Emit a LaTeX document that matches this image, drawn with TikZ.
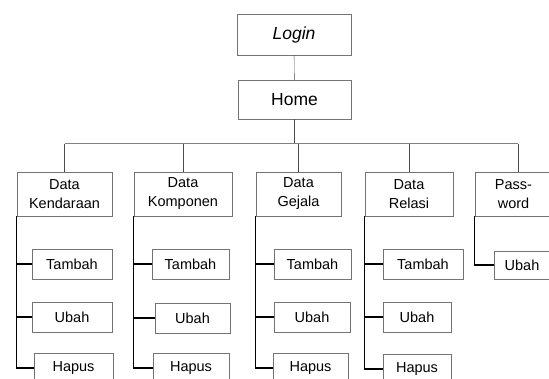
\documentclass[tikz,border=0pt]{standalone}
\usepackage{fontspec}
\setmainfont{Liberation Sans}
\usetikzlibrary{positioning}

\begin{document}
\begin{tikzpicture}[x=1pt,y=-1pt]
		\useasboundingbox (0,0) rectangle (549,379);
		\clip (0,0) rectangle (549,379);

		\begin{scope}[every node/.style={rectangle,draw=gray!90!black,thin,inner sep=0pt,align=center,font=\fontsize{14.5}{19}\selectfont}]
			\node[minimum width=114pt,minimum height=41pt,font=\fontsize{17.5}{20}\selectfont\itshape] (login) at (294,34.5) {Login};
			\node[minimum width=113pt,minimum height=39pt,font=\fontsize{17.5}{20}\selectfont] (home) at (294.5,99.5) {Home};

			\node[minimum width=95pt,minimum height=44pt] (kend) at (64.5,194) {Data\\Kendaraan};
			\node[minimum width=98pt,minimum height=44pt] (komp) at (183,194) {Data\\Komponen};
			\node[minimum width=85pt,minimum height=44pt] (gej) at (298.5,194) {Data\\Gejala};
			\node[minimum width=88pt,minimum height=44pt] (rel) at (409,194) {Data\\Relasi};
			\node[minimum width=77pt,minimum height=44pt] (pass) at (513.5,194) {Pass-\\word};

			\node[minimum width=80pt,minimum height=30pt] (kendT) at (72,264) {Tambah};
			\node[minimum width=80pt,minimum height=30pt] (kendU) at (72,317) {Ubah};
			\node[minimum width=79pt,minimum height=30pt] (kendH) at (73.5,368) {Hapus};

			\node[minimum width=77pt,minimum height=30pt] (kompT) at (190.5,264) {Tambah};
			\node[minimum width=75pt,minimum height=30pt] (kompU) at (192.5,318) {Ubah};
			\node[minimum width=76pt,minimum height=30pt] (kompH) at (191,368) {Hapus};

			\node[minimum width=77pt,minimum height=30pt] (gejT) at (312.5,264) {Tambah};
			\node[minimum width=76pt,minimum height=30pt] (gejU) at (312,317) {Ubah};
			\node[minimum width=75pt,minimum height=30pt] (gejH) at (310.5,368) {Hapus};

			\node[minimum width=80pt,minimum height=30pt] (relT) at (423,264) {Tambah};
			\node[minimum width=68pt,minimum height=30pt] (relU) at (417,317) {Ubah};
			\node[minimum width=68pt,minimum height=30pt] (relH) at (417,369) {Hapus};

			\node[minimum width=56pt,minimum height=28pt] (passU) at (522,265) {Ubah};
		\end{scope}

		% top part
		\begin{scope}[draw=black!70,thin]
			\draw (login) -- (home);
			\draw (home.south) -- ++(0,24.5) coordinate (bus);
			\coordinate (passtop) at ([xshift=4.5pt]pass.north);
			\draw[draw=gray,semithick] (kend.north |- bus) -- (passtop |- bus);
			\foreach \n in {kend,komp,gej,rel}
				\draw (\n.north |- bus) -- (\n.north);
			\draw (passtop |- bus) -- (passtop);
		\end{scope}

		% sub menu
		\begin{scope}[draw=black,line width=1.2pt]
			\foreach \n in {kend,komp,gej,rel} {
				\draw (\n.south west) |- (\n H.west);
				\draw (\n.south west |- \n T.west) -- (\n T.west);
				\draw (\n.south west |- \n U.west) -- (\n U.west);
			}
			\draw (pass.south west) |- (passU.west);
		\end{scope}
	\end{tikzpicture}
\end{document}
